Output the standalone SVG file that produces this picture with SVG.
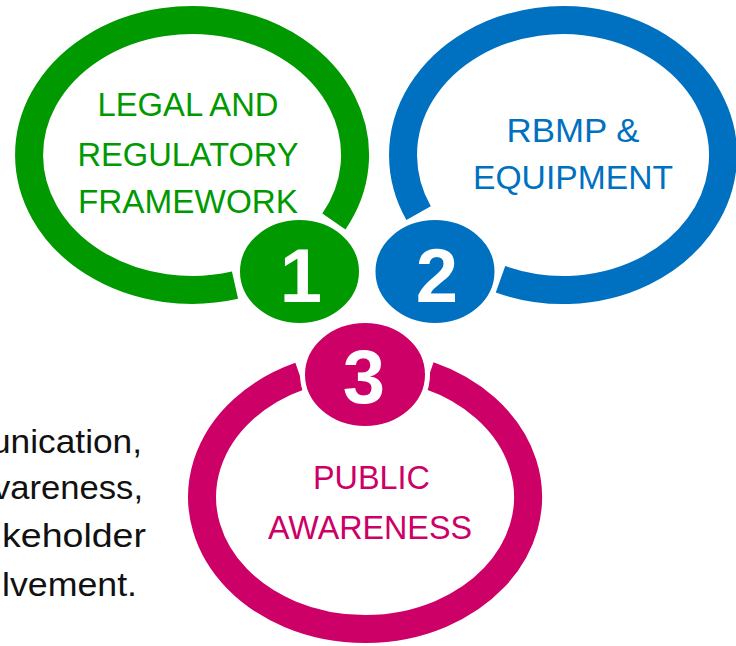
<svg xmlns="http://www.w3.org/2000/svg" width="736" height="646" viewBox="0 0 736 646">
<style>
.ring{fill:none;stroke-width:28;stroke-linecap:butt}
.lbl{font-family:"Liberation Sans","Open Sans",sans-serif;font-size:34px;text-anchor:middle}
.num{font-family:"Liberation Sans","Open Sans",sans-serif;font-size:76px;font-weight:bold;fill:#fff;text-anchor:middle}
.badge{stroke:#fff;stroke-width:5}
.side{font-family:"Liberation Sans","Open Sans",sans-serif;font-size:34px;fill:#111}
</style>
<rect width="736" height="646" fill="#fff"/>
<g id="side-text">
<text class="side" x="-9" y="453" textLength="151" lengthAdjust="spacingAndGlyphs">unication,</text>
<text class="side" x="-7" y="499" textLength="150" lengthAdjust="spacingAndGlyphs">vareness,</text>
<text class="side" x="2" y="547" textLength="144" lengthAdjust="spacingAndGlyphs">keholder</text>
<text class="side" x="2" y="596" textLength="135" lengthAdjust="spacingAndGlyphs">lvement.</text>
</g>
<g id="node-legal">
<path class="ring" stroke="#009900" d="M235,285.2 A163 135 0 1 1 333.9,221.5"/>
<text class="lbl" fill="#009900" x="188" y="116" textLength="181" lengthAdjust="spacingAndGlyphs">LEGAL AND</text>
<text class="lbl" fill="#009900" x="188" y="166" textLength="221" lengthAdjust="spacingAndGlyphs">REGULATORY</text>
<text class="lbl" fill="#009900" x="188" y="213" textLength="220" lengthAdjust="spacingAndGlyphs">FRAMEWORK</text>
<ellipse class="badge" cx="299.5" cy="271.5" rx="62" ry="54" fill="#009900"/>
<text class="num" x="301" y="302">1</text>
</g>
<g id="node-rbmp">
<path class="ring" stroke="#0070C0" d="M418.6,213.1 A160 135 0 1 1 500.5,279.3"/>
<text class="lbl" fill="#0070C0" x="573" y="141.5" textLength="133" lengthAdjust="spacingAndGlyphs">RBMP &amp;</text>
<text class="lbl" fill="#0070C0" x="573" y="189" textLength="200" lengthAdjust="spacingAndGlyphs">EQUIPMENT</text>
<ellipse class="badge" cx="435" cy="271.5" rx="62" ry="54" fill="#0070C0"/>
<text class="num" x="437" y="302">2</text>
</g>
<g id="node-public">
<path class="ring" stroke="#CC0066" d="M429,375.6 A163 132 0 1 1 300,376"/>
<text class="lbl" fill="#CC0066" x="371.5" y="489" textLength="117" lengthAdjust="spacingAndGlyphs">PUBLIC</text>
<text class="lbl" fill="#CC0066" x="370" y="539" textLength="204" lengthAdjust="spacingAndGlyphs">AWARENESS</text>
<ellipse class="badge" cx="365" cy="374.5" rx="62.5" ry="54" fill="#CC0066"/>
<text class="num" x="364" y="403">3</text>
</g>
<g id="connectors"/>
</svg>
